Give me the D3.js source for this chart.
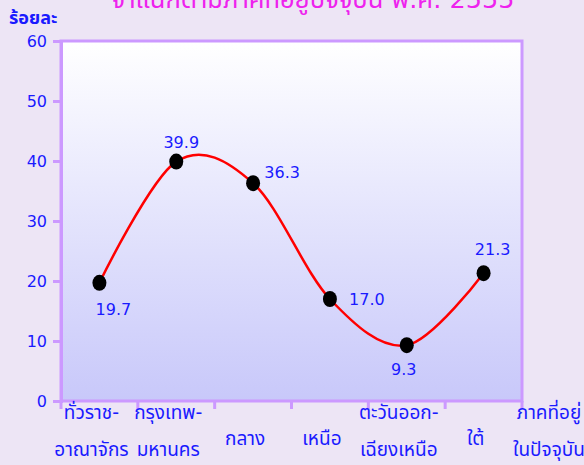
<!DOCTYPE html>
<html>
<head>
<meta charset="utf-8">
<script src="https://cdn.jsdelivr.net/npm/d3@7"></script>
<style>
body { margin: 0; background: #ede5f5; }
svg { display: block; }
text { font-family: "DejaVu Sans", Tahoma, "Noto Sans Thai", sans-serif; }
</style>
</head>
<body>
<svg id="chart"></svg>
<script>
var regions = ["ทั่วราชอาณาจักร", "กรุงเทพมหานคร", "กลาง", "เหนือ", "ตะวันออกเฉียงเหนือ", "ใต้"];
var regionLabels = [["ทั่วราช-", "อาณาจักร"], ["กรุงเทพ-", "มหานคร"], ["กลาง"], ["เหนือ"], ["ตะวันออก-", "เฉียงเหนือ"], ["ใต้"]];
var percents = [19.7, 39.9, 36.3, 17.0, 9.3, 21.3];
var yTicks = [0, 10, 20, 30, 40, 50, 60];
var title = "จำแนกตามภาคที่อยู่ปัจจุบัน พ.ศ. 2555";
var yTitle = "ร้อยละ";
var xTitle = ["ภาคที่อยู่", "ในปัจจุบัน"];

// label offsets from each point (dx, dy)
var labelOffsets = [[14, 27], [5, -19], [29, -11], [37, 0], [-3, 24], [9, -24]];

var W = 584, H = 465,
	margin = {top: 41, right: 62, bottom: 64, left: 61},
	width = W - margin.left - margin.right,
	height = H - margin.top - margin.bottom,
	blue = "#1a1aff", purple = "#cc99ff";

var svg = d3.select("#chart").attr("width", W).attr("height", H);

var defs = svg.append("defs");
var grad = defs.append("linearGradient").attr("id", "bg").attr("x1", 0).attr("y1", 0).attr("x2", 0).attr("y2", 1);
grad.append("stop").attr("offset", "0%").attr("stop-color", "#ffffff");
grad.append("stop").attr("offset", "100%").attr("stop-color", "#c8c8fa");

var g = svg.append("g").attr("transform", "translate(" + margin.left + "," + margin.top + ")");

var x = d3.scaleBand().domain(regions).range([0, width]),
	y = d3.scaleLinear().domain([0, 60]).range([height, 0]);

g.append("rect")
	.attr("width", width).attr("height", height)
	.attr("fill", "url(#bg)")
	.attr("stroke", purple).attr("stroke-width", 3);

// y axis
var yAxis = g.append("g")
	.call(d3.axisLeft(y).tickValues(yTicks).tickSize(8).tickPadding(6));
yAxis.select(".domain").attr("stroke", purple).attr("stroke-width", 3);
yAxis.selectAll(".tick line").attr("stroke", purple).attr("stroke-width", 3);
yAxis.selectAll(".tick text").attr("fill", blue).style("font-size", "16px");

// x axis separators
var xAxis = g.append("g")
	.attr("transform", "translate(0," + height + ")");
xAxis.selectAll(".sep")
	.data(regions.concat([null]))
	.enter().append("line")
	.attr("x1", function(d, i) { return i * x.bandwidth(); })
	.attr("x2", function(d, i) { return i * x.bandwidth(); })
	.attr("y1", 0).attr("y2", 8)
	.attr("stroke", purple).attr("stroke-width", 3);

var cx = function(d, i) { return x(regions[i]) + x.bandwidth() / 2; };

var lbl = g.selectAll(".xlbl")
	.data(regionLabels)
	.enter().append("text")
	.attr("class", "xlbl")
	.attr("text-anchor", "middle")
	.attr("fill", blue)
	.style("font-size", "19px")
	.attr("transform", function(d, i) {
		return "translate(" + (cx(d, i) - 8) + "," + (height + (d.length > 1 ? 18 : 44)) + ")";
	});
lbl.selectAll("tspan")
	.data(function(d) { return d; })
	.enter().append("tspan")
	.attr("x", 0)
	.attr("dy", function(d, i) { return i ? 37 : 0; })
	.text(function(d) { return d; });

g.append("text")
	.attr("text-anchor", "middle")
	.attr("fill", blue)
	.style("font-size", "19px")
	.attr("transform", "translate(" + (width + 27) + "," + (height + 18) + ")")
	.selectAll("tspan").data(xTitle).enter().append("tspan")
	.attr("x", 0)
	.attr("dy", function(d, i) { return i ? 37 : 0; })
	.text(function(d) { return d; });

// line
var line = d3.line()
	.x(function(d, i) { return cx(d, i); })
	.y(function(d) { return y(d); })
	.curve(d3.curveCardinal.tension(0));

g.append("path")
	.datum(percents)
	.attr("d", line)
	.attr("fill", "none")
	.attr("stroke", "#ff0000")
	.attr("stroke-width", 2.5);

g.selectAll(".dot")
	.data(percents)
	.enter().append("ellipse")
	.attr("cx", cx)
	.attr("cy", function(d) { return y(d); })
	.attr("rx", 7).attr("ry", 8)
	.attr("fill", "#000");

g.selectAll(".val")
	.data(percents)
	.enter().append("text")
	.attr("text-anchor", "middle")
	.attr("dominant-baseline", "central")
	.attr("fill", blue)
	.style("font-size", "16px")
	.attr("x", function(d, i) { return cx(d, i) + labelOffsets[i][0]; })
	.attr("y", function(d, i) { return y(d) + labelOffsets[i][1]; })
	.text(function(d) { return d.toFixed(1); });

// titles (top of the title runs off the page, as in the source)
svg.append("text")
	.attr("x", 313).attr("y", 8)
	.attr("text-anchor", "middle")
	.attr("fill", "#ee22ee")
	.style("font-size", "25.5px")
	.text(title);

svg.append("text")
	.attr("x", 9).attr("y", 24)
	.attr("fill", blue)
	.style("font-size", "18px")
	.style("font-weight", "bold")
	.text(yTitle);
</script>
</body>
</html>
